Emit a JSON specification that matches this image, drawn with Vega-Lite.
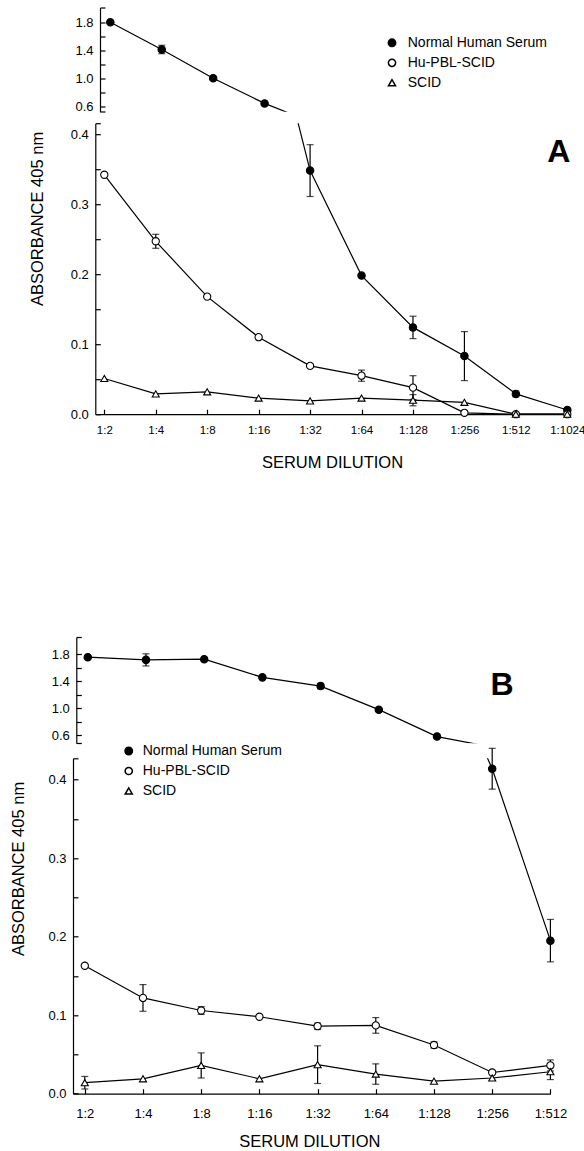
{
  "$schema": "https://vega.github.io/schema/vega-lite/v6.json",
  "background": "white",
  "padding": {"left": 10, "top": 1.5, "right": 0, "bottom": 5},
  "datasets": {
    "a": [
      {"series": "Normal Human Serum", "dil": 2, "abs": 1.80, "err": 0},
      {"series": "Normal Human Serum", "dil": 4, "abs": 1.41, "err": 0.06},
      {"series": "Normal Human Serum", "dil": 8, "abs": 1.00, "err": 0},
      {"series": "Normal Human Serum", "dil": 16, "abs": 0.64, "err": 0},
      {"series": "Normal Human Serum", "dil": 32, "abs": 0.348, "err": 0.037},
      {"series": "Normal Human Serum", "dil": 64, "abs": 0.198, "err": 0},
      {"series": "Normal Human Serum", "dil": 128, "abs": 0.124, "err": 0.016},
      {"series": "Normal Human Serum", "dil": 256, "abs": 0.083, "err": 0.035},
      {"series": "Normal Human Serum", "dil": 512, "abs": 0.029, "err": 0.004},
      {"series": "Normal Human Serum", "dil": 1024, "abs": 0.006, "err": 0},
      {"series": "Hu-PBL-SCID", "dil": 2, "abs": 0.342, "err": 0},
      {"series": "Hu-PBL-SCID", "dil": 4, "abs": 0.247, "err": 0.01},
      {"series": "Hu-PBL-SCID", "dil": 8, "abs": 0.168, "err": 0},
      {"series": "Hu-PBL-SCID", "dil": 16, "abs": 0.110, "err": 0},
      {"series": "Hu-PBL-SCID", "dil": 32, "abs": 0.069, "err": 0},
      {"series": "Hu-PBL-SCID", "dil": 64, "abs": 0.055, "err": 0.008},
      {"series": "Hu-PBL-SCID", "dil": 128, "abs": 0.038, "err": 0.017},
      {"series": "Hu-PBL-SCID", "dil": 256, "abs": 0.002, "err": 0},
      {"series": "Hu-PBL-SCID", "dil": 512, "abs": 0.0, "err": 0},
      {"series": "Hu-PBL-SCID", "dil": 1024, "abs": 0.0, "err": 0},
      {"series": "SCID", "dil": 2, "abs": 0.051, "err": 0},
      {"series": "SCID", "dil": 4, "abs": 0.029, "err": 0},
      {"series": "SCID", "dil": 8, "abs": 0.032, "err": 0},
      {"series": "SCID", "dil": 16, "abs": 0.023, "err": 0},
      {"series": "SCID", "dil": 32, "abs": 0.019, "err": 0},
      {"series": "SCID", "dil": 64, "abs": 0.023, "err": 0},
      {"series": "SCID", "dil": 128, "abs": 0.020, "err": 0.008},
      {"series": "SCID", "dil": 256, "abs": 0.017, "err": 0},
      {"series": "SCID", "dil": 512, "abs": 0.0, "err": 0},
      {"series": "SCID", "dil": 1024, "abs": 0.0, "err": 0}
    ],
    "b": [
      {"series": "Normal Human Serum", "dil": 2, "abs": 1.76, "err": 0},
      {"series": "Normal Human Serum", "dil": 4, "abs": 1.72, "err": 0.09},
      {"series": "Normal Human Serum", "dil": 8, "abs": 1.73, "err": 0},
      {"series": "Normal Human Serum", "dil": 16, "abs": 1.46, "err": 0},
      {"series": "Normal Human Serum", "dil": 32, "abs": 1.33, "err": 0.04},
      {"series": "Normal Human Serum", "dil": 64, "abs": 0.98, "err": 0},
      {"series": "Normal Human Serum", "dil": 128, "abs": 0.58, "err": 0},
      {"series": "Normal Human Serum", "dil": 256, "abs": 0.414, "err": 0.026},
      {"series": "Normal Human Serum", "dil": 512, "abs": 0.195, "err": 0.027},
      {"series": "Hu-PBL-SCID", "dil": 2, "abs": 0.163, "err": 0},
      {"series": "Hu-PBL-SCID", "dil": 4, "abs": 0.122, "err": 0.017},
      {"series": "Hu-PBL-SCID", "dil": 8, "abs": 0.106, "err": 0.005},
      {"series": "Hu-PBL-SCID", "dil": 16, "abs": 0.098, "err": 0},
      {"series": "Hu-PBL-SCID", "dil": 32, "abs": 0.086, "err": 0.004},
      {"series": "Hu-PBL-SCID", "dil": 64, "abs": 0.087, "err": 0.01},
      {"series": "Hu-PBL-SCID", "dil": 128, "abs": 0.062, "err": 0.004},
      {"series": "Hu-PBL-SCID", "dil": 256, "abs": 0.027, "err": 0},
      {"series": "Hu-PBL-SCID", "dil": 512, "abs": 0.036, "err": 0.007},
      {"series": "SCID", "dil": 2, "abs": 0.014, "err": 0.008},
      {"series": "SCID", "dil": 4, "abs": 0.019, "err": 0},
      {"series": "SCID", "dil": 8, "abs": 0.036, "err": 0.016},
      {"series": "SCID", "dil": 16, "abs": 0.019, "err": 0},
      {"series": "SCID", "dil": 32, "abs": 0.037, "err": 0.024},
      {"series": "SCID", "dil": 64, "abs": 0.025, "err": 0.013},
      {"series": "SCID", "dil": 128, "abs": 0.016, "err": 0},
      {"series": "SCID", "dil": 256, "abs": 0.020, "err": 0},
      {"series": "SCID", "dil": 512, "abs": 0.028, "err": 0.01}
    ]
  },
  "vconcat": [
    {
      "vconcat": [
        {
          "width": 497.3,
          "height": 104.3,
          "data": {"name": "a"},
          "encoding": {
            "x": {"field": "dil", "type": "quantitative", "scale": {"type": "log", "base": 2, "domain": [1.2097, 985.0], "nice": false, "zero": false}, "axis": null},
            "y": {"field": "abs", "type": "quantitative", "scale": {"domain": [0.52, 2.01], "nice": false, "zero": false},
              "axis": {"offset": -27, "values": [0.52, 0.6, 0.8, 1.0, 1.2, 1.4, 1.6, 1.8, 2.01], "labelExpr": "indexof([6, 10, 14, 18], round(datum.value * 10)) >= 0 && abs(datum.value * 10 - round(datum.value * 10)) < 0.01 ? format(datum.value, '.1f') : ''", "tickSize": -5, "labelPadding": 12, "title": null}}
          },
          "layer": [
            {"transform": [{"filter": "datum.series == 'Normal Human Serum'"}], "mark": {"type": "line", "color": "black", "strokeWidth": 1.2, "clip": true}, "encoding": {"detail": {"field": "series"}}},
            {"transform": [{"filter": "datum.err > 0 && datum.abs >= 0.52"}], "mark": {"type": "errorbar", "color": "black", "thickness": 1.2, "ticks": {"size": 7}}, "encoding": {"yError": {"field": "err"}}},
            {"transform": [{"filter": "datum.abs >= 0.52"}], "mark": {"type": "point", "filled": true, "stroke": "black", "strokeWidth": 1.1, "opacity": 1},
              "encoding": {
                "shape": {"field": "series", "type": "nominal", "scale": {"domain": ["Normal Human Serum", "Hu-PBL-SCID", "SCID"], "range": ["circle", "circle", "triangle-up"]}, "legend": {"title": null, "orient": "none", "legendX": 312, "legendY": 28.3, "padding": 0, "labelFont": "Liberation Sans", "labelFontSize": 14, "labelColor": "black", "labelOffset": 8.75, "rowPadding": 6, "labelLimit": 300, "encode": {"symbols": {"update": {"stroke": {"value": "black"}, "strokeWidth": {"value": 1}}}}}},
                "fill": {"field": "series", "type": "nominal", "scale": {"domain": ["Normal Human Serum", "Hu-PBL-SCID", "SCID"], "range": ["black", "white", "white"]}, "legend": {"title": null, "orient": "none", "legendX": 312, "legendY": 28.3, "padding": 0, "labelFont": "Liberation Sans", "labelFontSize": 14, "labelColor": "black", "labelOffset": 8.75, "rowPadding": 6, "labelLimit": 300, "encode": {"symbols": {"update": {"stroke": {"value": "black"}, "strokeWidth": {"value": 1}}}}}},
                "size": {"field": "series", "type": "nominal", "scale": {"domain": ["Normal Human Serum", "Hu-PBL-SCID", "SCID"], "range": [55, 50, 110]}, "legend": {"title": null, "orient": "none", "legendX": 312, "legendY": 28.3, "padding": 0, "labelFont": "Liberation Sans", "labelFontSize": 14, "labelColor": "black", "labelOffset": 8.75, "rowPadding": 6, "labelLimit": 300, "encode": {"symbols": {"update": {"stroke": {"value": "black"}, "strokeWidth": {"value": 1}}}}}}
              }
            }
          ]
        },
        {
          "width": 497.3,
          "height": 291,
          "data": {"name": "a"},
          "title": {"text": "A", "anchor": "end", "orient": "top", "frame": "group", "font": "Liberation Sans", "fontSize": 32, "fontWeight": "bold", "color": "black", "offset": 0, "baseline": "middle", "dy": 67},
          "encoding": {
            "x": {"field": "dil", "type": "quantitative", "scale": {"type": "log", "base": 2, "domain": [1.7715, 1066], "range": [22.3, 497.3], "nice": false, "zero": false},
              "axis": {"values": [2, 4, 8, 16, 32, 64, 128, 256, 512, 1024], "labelExpr": "'1:' + datum.value", "tickSize": -5, "labelPadding": 21, "labelBaseline": "middle", "labelFontSize": 11.5, "title": "SERUM DILUTION", "titleX": 259, "titleY": 48.5, "titleBaseline": "middle", "titleAlign": "center"}},
            "y": {"field": "abs", "type": "quantitative", "scale": {"domain": [0, 0.4157], "nice": false, "zero": false},
              "axis": {"offset": -22.3, "values": [0, 0.05, 0.1, 0.15, 0.2, 0.25, 0.3, 0.35, 0.4, 0.4157], "labelExpr": "round(datum.value * 100) % 10 == 0 ? format(datum.value, '.1f') : ''", "tickSize": -5, "labelPadding": 12, "title": "ABSORBANCE 405 nm", "titleX": -58.3, "titleY": 95.3, "titleAngle": -90, "titleBaseline": "middle", "titleAlign": "center"}}
          },
          "layer": [
            {"mark": {"type": "line", "color": "black", "strokeWidth": 1.2, "clip": true}, "encoding": {"detail": {"field": "series"}}},
            {"transform": [{"filter": "datum.err > 0 && datum.abs <= 0.4157"}], "mark": {"type": "errorbar", "color": "black", "thickness": 1.2, "ticks": {"size": 7}}, "encoding": {"yError": {"field": "err"}}},
            {"transform": [{"filter": "datum.abs <= 0.4157"}], "mark": {"type": "point", "filled": true, "stroke": "black", "strokeWidth": 1.1, "opacity": 1},
              "encoding": {
                "shape": {"field": "series", "type": "nominal", "scale": {"domain": ["Normal Human Serum", "Hu-PBL-SCID", "SCID"], "range": ["circle", "circle", "triangle-up"]}, "legend": null},
                "fill": {"field": "series", "type": "nominal", "scale": {"domain": ["Normal Human Serum", "Hu-PBL-SCID", "SCID"], "range": ["black", "white", "white"]}, "legend": null},
                "size": {"field": "series", "type": "nominal", "scale": {"domain": ["Normal Human Serum", "Hu-PBL-SCID", "SCID"], "range": [55, 50, 110]}, "legend": null}
              }
            }
          ]
        }
      ],
      "spacing": 10.7,
      "bounds": "flush",
      "resolve": {"scale": {"shape": "independent", "fill": "independent", "size": "independent"}}
    },
    {
      "vconcat": [
        {
          "width": 477.4,
          "height": 106.3,
          "data": {"name": "b"},
          "title": {"text": "B", "anchor": "end", "orient": "top", "frame": "group", "font": "Liberation Sans", "fontSize": 32, "fontWeight": "bold", "color": "black", "offset": 0, "baseline": "middle", "dy": 86.4, "dx": -36.9},
          "encoding": {
            "x": {"field": "dil", "type": "quantitative", "scale": {"type": "log", "base": 2, "domain": [1.677, 494.0], "nice": false, "zero": false}, "axis": null},
            "y": {"field": "abs", "type": "quantitative", "scale": {"domain": [0.48, 2.06], "nice": false, "zero": false},
              "axis": {"offset": -3.3, "values": [0.48, 0.6, 0.8, 1.0, 1.2, 1.4, 1.6, 1.8, 2.06], "labelExpr": "indexof([6, 10, 14, 18], round(datum.value * 10)) >= 0 && abs(datum.value * 10 - round(datum.value * 10)) < 0.01 ? format(datum.value, '.1f') : ''", "tickSize": -5, "labelPadding": 12, "title": null}}
          },
          "layer": [
            {"transform": [{"filter": "datum.series == 'Normal Human Serum'"}], "mark": {"type": "line", "color": "black", "strokeWidth": 1.2, "clip": true}, "encoding": {"detail": {"field": "series"}}},
            {"transform": [{"filter": "datum.err > 0 && datum.abs >= 0.48"}], "mark": {"type": "errorbar", "color": "black", "thickness": 1.2, "ticks": {"size": 7}}, "encoding": {"yError": {"field": "err"}}},
            {"transform": [{"filter": "datum.abs >= 0.48"}], "mark": {"type": "point", "filled": true, "stroke": "black", "strokeWidth": 1.1, "opacity": 1},
              "encoding": {
                "shape": {"field": "series", "type": "nominal", "scale": {"domain": ["Normal Human Serum", "Hu-PBL-SCID", "SCID"], "range": ["circle", "circle", "triangle-up"]}, "legend": null},
                "fill": {"field": "series", "type": "nominal", "scale": {"domain": ["Normal Human Serum", "Hu-PBL-SCID", "SCID"], "range": ["black", "white", "white"]}, "legend": null},
                "size": {"field": "series", "type": "nominal", "scale": {"domain": ["Normal Human Serum", "Hu-PBL-SCID", "SCID"], "range": [55, 50, 110]}, "legend": null}
              }
            }
          ]
        },
        {
          "width": 477.4,
          "height": 335.4,
          "data": {"name": "b"},
          "encoding": {
            "x": {"field": "dil", "type": "quantitative", "scale": {"type": "log", "base": 2, "domain": [1.738, 512], "nice": false, "zero": false},
              "axis": {"values": [2, 4, 8, 16, 32, 64, 128, 256, 512], "labelExpr": "'1:' + datum.value", "tickSize": -5, "labelPadding": 25, "labelBaseline": "middle", "title": "SERUM DILUTION", "titleX": 236.3, "titleY": 47.8, "titleBaseline": "middle", "titleAlign": "center"}},
            "y": {"field": "abs", "type": "quantitative", "scale": {"domain": [0, 0.4273], "nice": false, "zero": false},
              "axis": {"values": [0, 0.05, 0.1, 0.15, 0.2, 0.25, 0.3, 0.35, 0.4, 0.4273], "labelExpr": "round(datum.value * 100) % 10 == 0 ? format(datum.value, '.1f') : ''", "tickSize": -5, "labelPadding": 12, "title": "ABSORBANCE 405 nm", "titleX": -54.4, "titleY": 110.2, "titleAngle": -90, "titleBaseline": "middle", "titleAlign": "center"}}
          },
          "layer": [
            {"mark": {"type": "line", "color": "black", "strokeWidth": 1.2, "clip": true}, "encoding": {"detail": {"field": "series"}}},
            {"transform": [{"filter": "datum.err > 0 && datum.abs <= 0.4273"}], "mark": {"type": "errorbar", "color": "black", "thickness": 1.2, "ticks": {"size": 7}}, "encoding": {"yError": {"field": "err"}}},
            {"transform": [{"filter": "datum.abs <= 0.4273"}], "mark": {"type": "point", "filled": true, "stroke": "black", "strokeWidth": 1.1, "opacity": 1},
              "encoding": {
                "shape": {"field": "series", "type": "nominal", "scale": {"domain": ["Normal Human Serum", "Hu-PBL-SCID", "SCID"], "range": ["circle", "circle", "triangle-up"]}, "legend": {"title": null, "orient": "none", "legendX": 48.75, "legendY": -14.3, "padding": 0, "labelFont": "Liberation Sans", "labelFontSize": 14, "labelColor": "black", "labelOffset": 7, "rowPadding": 6, "labelLimit": 300, "encode": {"symbols": {"update": {"stroke": {"value": "black"}, "strokeWidth": {"value": 1}}}}}},
                "fill": {"field": "series", "type": "nominal", "scale": {"domain": ["Normal Human Serum", "Hu-PBL-SCID", "SCID"], "range": ["black", "white", "white"]}, "legend": {"title": null, "orient": "none", "legendX": 48.75, "legendY": -14.3, "padding": 0, "labelFont": "Liberation Sans", "labelFontSize": 14, "labelColor": "black", "labelOffset": 7, "rowPadding": 6, "labelLimit": 300, "encode": {"symbols": {"update": {"stroke": {"value": "black"}, "strokeWidth": {"value": 1}}}}}},
                "size": {"field": "series", "type": "nominal", "scale": {"domain": ["Normal Human Serum", "Hu-PBL-SCID", "SCID"], "range": [55, 50, 110]}, "legend": {"title": null, "orient": "none", "legendX": 48.75, "legendY": -14.3, "padding": 0, "labelFont": "Liberation Sans", "labelFontSize": 14, "labelColor": "black", "labelOffset": 7, "rowPadding": 6, "labelLimit": 300, "encode": {"symbols": {"update": {"stroke": {"value": "black"}, "strokeWidth": {"value": 1}}}}}}
              }
            }
          ]
        }
      ],
      "spacing": 14.3,
      "bounds": "flush",
      "resolve": {"scale": {"shape": "independent", "fill": "independent", "size": "independent"}}
    }
  ],
  "spacing": 159.5,
  "resolve": {"scale": {"shape": "independent", "fill": "independent", "size": "independent"}},
  "config": {
    "view": {"stroke": null},
    "axis": {"grid": false, "domainColor": "black", "tickColor": "black", "labelColor": "black", "titleColor": "black", "labelFont": "Liberation Sans", "labelFontSize": 13, "titleFont": "Liberation Sans", "titleFontSize": 16.5, "titleFontWeight": "normal", "domainWidth": 1.2, "tickWidth": 1.2, "labelFlush": false, "labelOverlap": false}
  }
}
